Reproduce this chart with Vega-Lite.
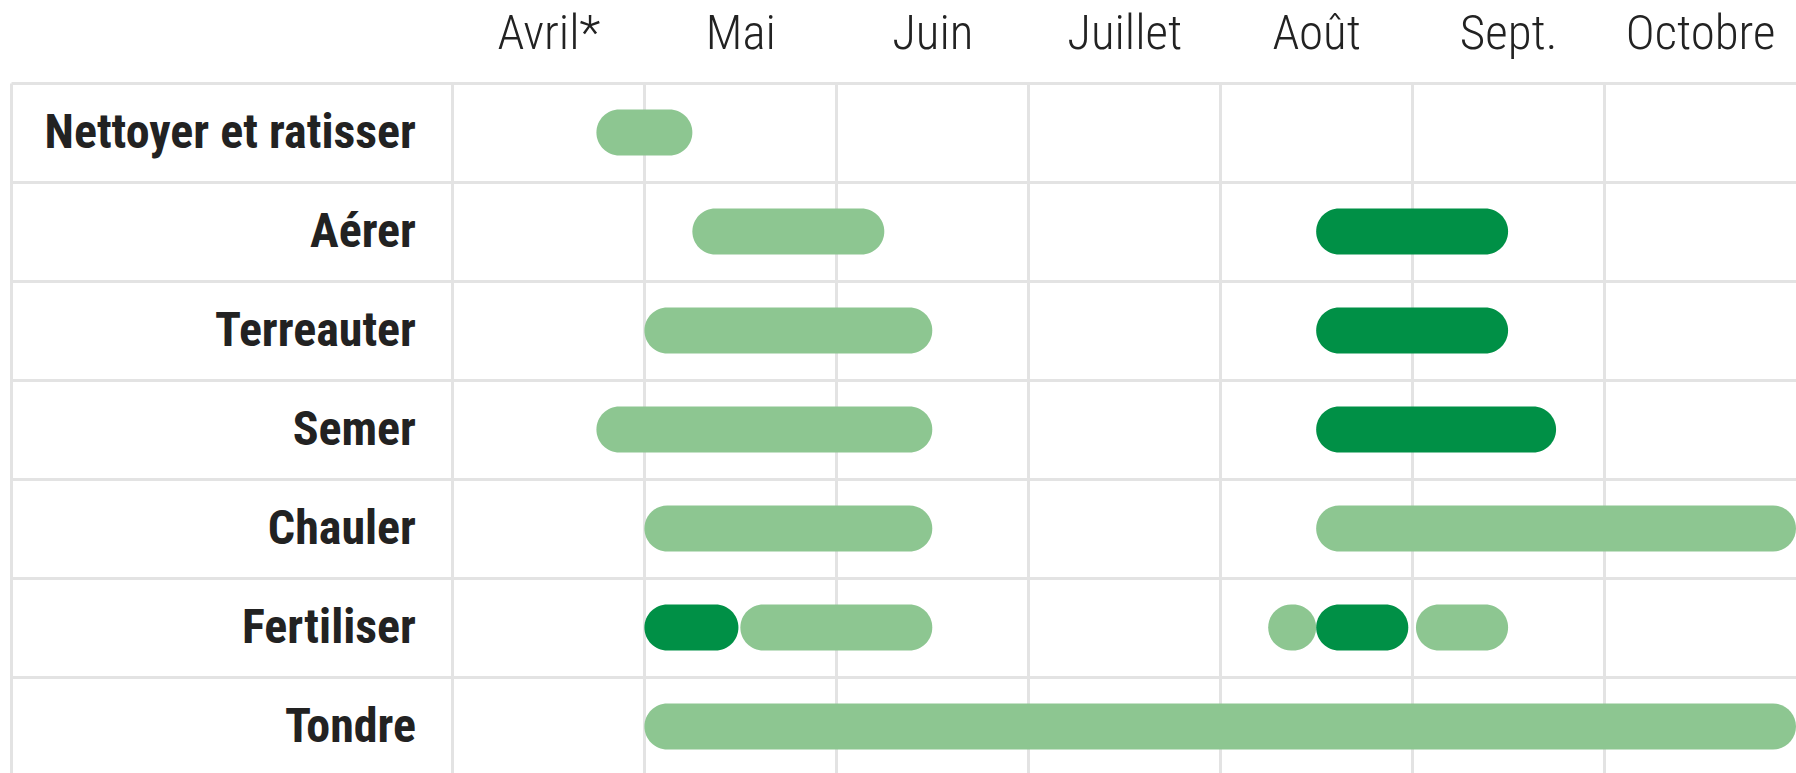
{
  "$schema": "https://vega.github.io/schema/vega-lite/v6.json",
  "width": 1785,
  "height": 693,
  "autosize": {"type": "none"},
  "padding": {"left": 11, "top": 83, "right": 0, "bottom": 0},
  "background": "white",
  "config": {"view": {"stroke": null}},
  "datasets": {
    "bars": [
      {"task": "Nettoyer et ratisser", "start": 4.75, "end": 5.25, "type": "clair"},
      {"task": "Aérer", "start": 5.25, "end": 6.25, "type": "clair"},
      {"task": "Aérer", "start": 8.5, "end": 9.5, "type": "foncé"},
      {"task": "Terreauter", "start": 5.0, "end": 6.5, "type": "clair"},
      {"task": "Terreauter", "start": 8.5, "end": 9.5, "type": "foncé"},
      {"task": "Semer", "start": 4.75, "end": 6.5, "type": "clair"},
      {"task": "Semer", "start": 8.5, "end": 9.75, "type": "foncé"},
      {"task": "Chauler", "start": 5.0, "end": 6.5, "type": "clair"},
      {"task": "Chauler", "start": 8.5, "end": 11.0, "type": "clair"},
      {"task": "Fertiliser", "start": 5.0, "end": 5.49, "type": "foncé"},
      {"task": "Fertiliser", "start": 5.5, "end": 6.5, "type": "clair"},
      {"task": "Fertiliser", "start": 8.25, "end": 8.5, "type": "clair"},
      {"task": "Fertiliser", "start": 8.5, "end": 8.98, "type": "foncé"},
      {"task": "Fertiliser", "start": 9.02, "end": 9.5, "type": "clair"},
      {"task": "Tondre", "start": 5.0, "end": 11.0, "type": "clair"}
    ],
    "tasks": [
      {"task": "Nettoyer et ratisser"},
      {"task": "Aérer"},
      {"task": "Terreauter"},
      {"task": "Semer"},
      {"task": "Chauler"},
      {"task": "Fertiliser"},
      {"task": "Tondre"}
    ]
  },
  "layer": [
    {
      "data": {"name": "bars"},
      "mark": {"type": "bar", "height": 46, "cornerRadius": 23},
      "encoding": {
        "y": {
          "field": "task",
          "type": "nominal",
          "scale": {
            "domain": ["Nettoyer et ratisser", "Aérer", "Terreauter", "Semer", "Chauler", "Fertiliser", "Tondre"],
            "paddingInner": 0,
            "paddingOuter": 0
          },
          "axis": {
            "title": null,
            "labels": false,
            "ticks": false,
            "domain": false,
            "grid": true,
            "bandPosition": 0,
            "gridColor": "#e3e3e3",
            "gridWidth": 3
          }
        },
        "x": {
          "field": "start",
          "type": "quantitative",
          "scale": {"domain": [1.7, 11], "nice": false, "zero": false},
          "axis": {
            "orient": "top",
            "values": [1.7, 4, 5, 6, 7, 8, 9, 10],
            "title": null,
            "grid": true,
            "gridColor": "#e3e3e3",
            "gridWidth": 3,
            "domain": false,
            "ticks": false,
            "tickSize": 0,
            "labelOffset": 96,
            "labelPadding": 35,
            "labelBaseline": "alphabetic",
            "labelAlign": "center",
            "labelFlush": false,
            "labelOverlap": false,
            "labelExpr": "['','','','','Avril*','Mai','Juin','Juillet','Août','Sept.','Octobre'][datum.value] || ''",
            "labelFont": "'Roboto Condensed', 'DejaVu Sans Condensed', Roboto",
            "labelFontSize": 49,
            "labelFontWeight": 300,
            "labelColor": "#222222"
          }
        },
        "x2": {"field": "end"},
        "color": {
          "field": "type",
          "type": "nominal",
          "scale": {"domain": ["clair", "foncé"], "range": ["#8dc691", "#009046"]},
          "legend": null
        }
      }
    },
    {
      "data": {"name": "tasks"},
      "mark": {
        "type": "text",
        "align": "right",
        "baseline": "middle",
        "dy": 1,
        "font": "'Roboto Condensed', 'DejaVu Sans Condensed', Roboto",
        "fontWeight": "bold",
        "fontSize": 48,
        "color": "#222222"
      },
      "encoding": {
        "y": {"field": "task", "type": "nominal"},
        "x": {"datum": 3.81},
        "text": {"field": "task"}
      }
    }
  ]
}
